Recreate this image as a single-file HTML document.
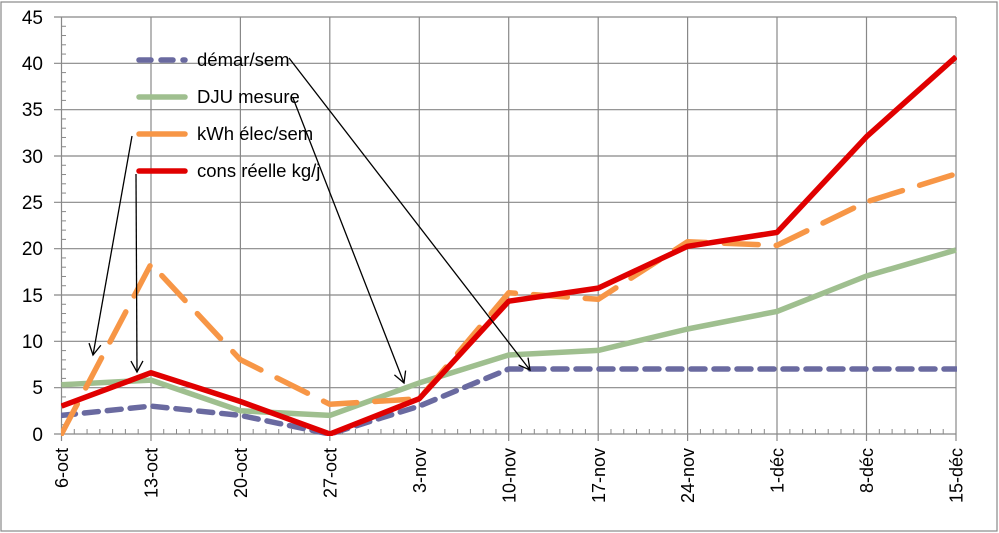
<!DOCTYPE html>
<html><head><meta charset="utf-8"><style>
html,body{margin:0;padding:0;background:#fff}
svg{display:block}
text{font-family:"Liberation Sans",sans-serif;fill:#000}
</style></head><body>
<svg width="999" height="533" viewBox="0 0 999 533" xmlns="http://www.w3.org/2000/svg">
<defs>
<clipPath id="c"><rect x="61" y="16" width="896" height="420"/></clipPath>
<marker id="ah" markerWidth="14" markerHeight="14" refX="12" refY="7" orient="auto" markerUnits="userSpaceOnUse">
<path d="M1,1 L12,7 L1,13" fill="none" stroke="#000" stroke-width="1.3"/></marker>
</defs>
<rect x="1" y="2" width="996" height="529" fill="#fff" stroke="#888" stroke-width="1.2"/>
<g stroke="#888" stroke-width="1.2" fill="none">
<path d="M54,17H956M54,63.3H956M54,109.7H956M54,156H956M54,202.3H956M54,248.7H956M54,295H956M54,341.3H956M54,387.7H956M54,434H956"/>
<path d="M61.5,17V441M151,17V441M240.4,17V441M329.8,17V441M419.3,17V441M508.7,17V441M598.2,17V441M687.6,17V441M777,17V441M866.5,17V441M956,17V441"/>
</g>
<g id="yt" stroke="#888" stroke-width="1"></g>
<g id="xt" stroke="#888" stroke-width="1"></g>
<g font-size="19" text-anchor="end">
<text x="43" y="24">45</text><text x="43" y="70">40</text><text x="43" y="116">35</text><text x="43" y="163">30</text><text x="43" y="209">25</text><text x="43" y="255">20</text><text x="43" y="302">15</text><text x="43" y="348">10</text><text x="43" y="394">5</text><text x="43" y="441">0</text>
</g>
<g font-size="18" text-anchor="end">
<text transform="translate(68,448) rotate(-90)">6-oct</text>
<text transform="translate(157.5,448) rotate(-90)">13-oct</text>
<text transform="translate(247,448) rotate(-90)">20-oct</text>
<text transform="translate(336.5,448) rotate(-90)">27-oct</text>
<text transform="translate(426,448) rotate(-90)">3-nov</text>
<text transform="translate(515.5,448) rotate(-90)">10-nov</text>
<text transform="translate(605,448) rotate(-90)">17-nov</text>
<text transform="translate(694,448) rotate(-90)">24-nov</text>
<text transform="translate(783.5,448) rotate(-90)">1-déc</text>
<text transform="translate(873,448) rotate(-90)">8-déc</text>
<text transform="translate(962.5,448) rotate(-90)">15-déc</text>
</g>
<g clip-path="url(#c)" fill="none" stroke-linejoin="round">
<polyline stroke="#6a6aa0" stroke-width="5.5" stroke-dasharray="14,9" stroke-linecap="round" points="61.5,415.4 151,406.1 240.4,415.4 329.8,434 419.3,406.1 508.7,369 598.2,369 687.6,369 777,369 866.5,369 956,369"/>
<polyline stroke="#9fbf8f" stroke-width="5.5" points="61.5,384.8 151,380.1 240.4,410.8 329.8,415.4 419.3,382.9 508.7,355 598.2,350.4 687.6,329 777,311.4 866.5,276 956,250"/>
<polyline stroke="#f79646" stroke-width="5.5" stroke-dasharray="34,18" stroke-linecap="round" points="61.5,434 151,264 240.4,359.7 329.8,404.3 419.3,398.7 508.7,292.8 598.2,299.3 687.6,241.7 777,245.4 866.5,201.8 956,173.9"/>
<polyline stroke="#e00000" stroke-width="5.5" points="61.5,406.1 151,372.7 240.4,401.5 329.8,434 419.3,398.7 508.7,301.2 598.2,288.1 687.6,246.3 777,232.4 866.5,136.7 956,56.8"/>
</g>
<g stroke-width="5.5" stroke-linecap="round">
<line x1="139" y1="60" x2="185" y2="60" stroke="#6a6aa0" stroke-dasharray="12,10"/>
<line x1="139" y1="97" x2="185" y2="97" stroke="#9fbf8f"/>
<line x1="139" y1="134" x2="185" y2="134" stroke="#f79646"/>
<line x1="139" y1="171" x2="185" y2="171" stroke="#e00000"/>
</g>
<g font-size="18.5">
<text x="197" y="66">démar/sem</text>
<text x="197" y="103">DJU mesure</text>
<text x="197" y="140">kWh élec/sem</text>
<text x="197" y="177">cons réelle kg/j</text>
</g>
<g stroke="#000" stroke-width="1.3" fill="none" marker-end="url(#ah)">
<line x1="132" y1="136" x2="93" y2="355"/>
<line x1="136" y1="174" x2="137" y2="372"/>
<line x1="293" y1="98" x2="404" y2="383"/>
<line x1="289" y1="58" x2="530" y2="370"/>
</g>
<script>
(function(){var ns="http://www.w3.org/2000/svg";var g=document.getElementById("yt");
for(var v=1;v<45;v++){if(v%5==0)continue;var y=434-v*417/45;var l=document.createElementNS(ns,"line");l.setAttribute("x1",61.5);l.setAttribute("x2",66);l.setAttribute("y1",y);l.setAttribute("y2",y);g.appendChild(l);}
var h=document.getElementById("xt");var sp=(956-61.5)/70;
for(var i=1;i<70;i++){if(i%7==0)continue;var x=61.5+i*sp;var l2=document.createElementNS(ns,"line");l2.setAttribute("x1",x);l2.setAttribute("x2",x);l2.setAttribute("y1",429);l2.setAttribute("y2",434);h.appendChild(l2);}})();
</script>
</svg>
</body></html>
